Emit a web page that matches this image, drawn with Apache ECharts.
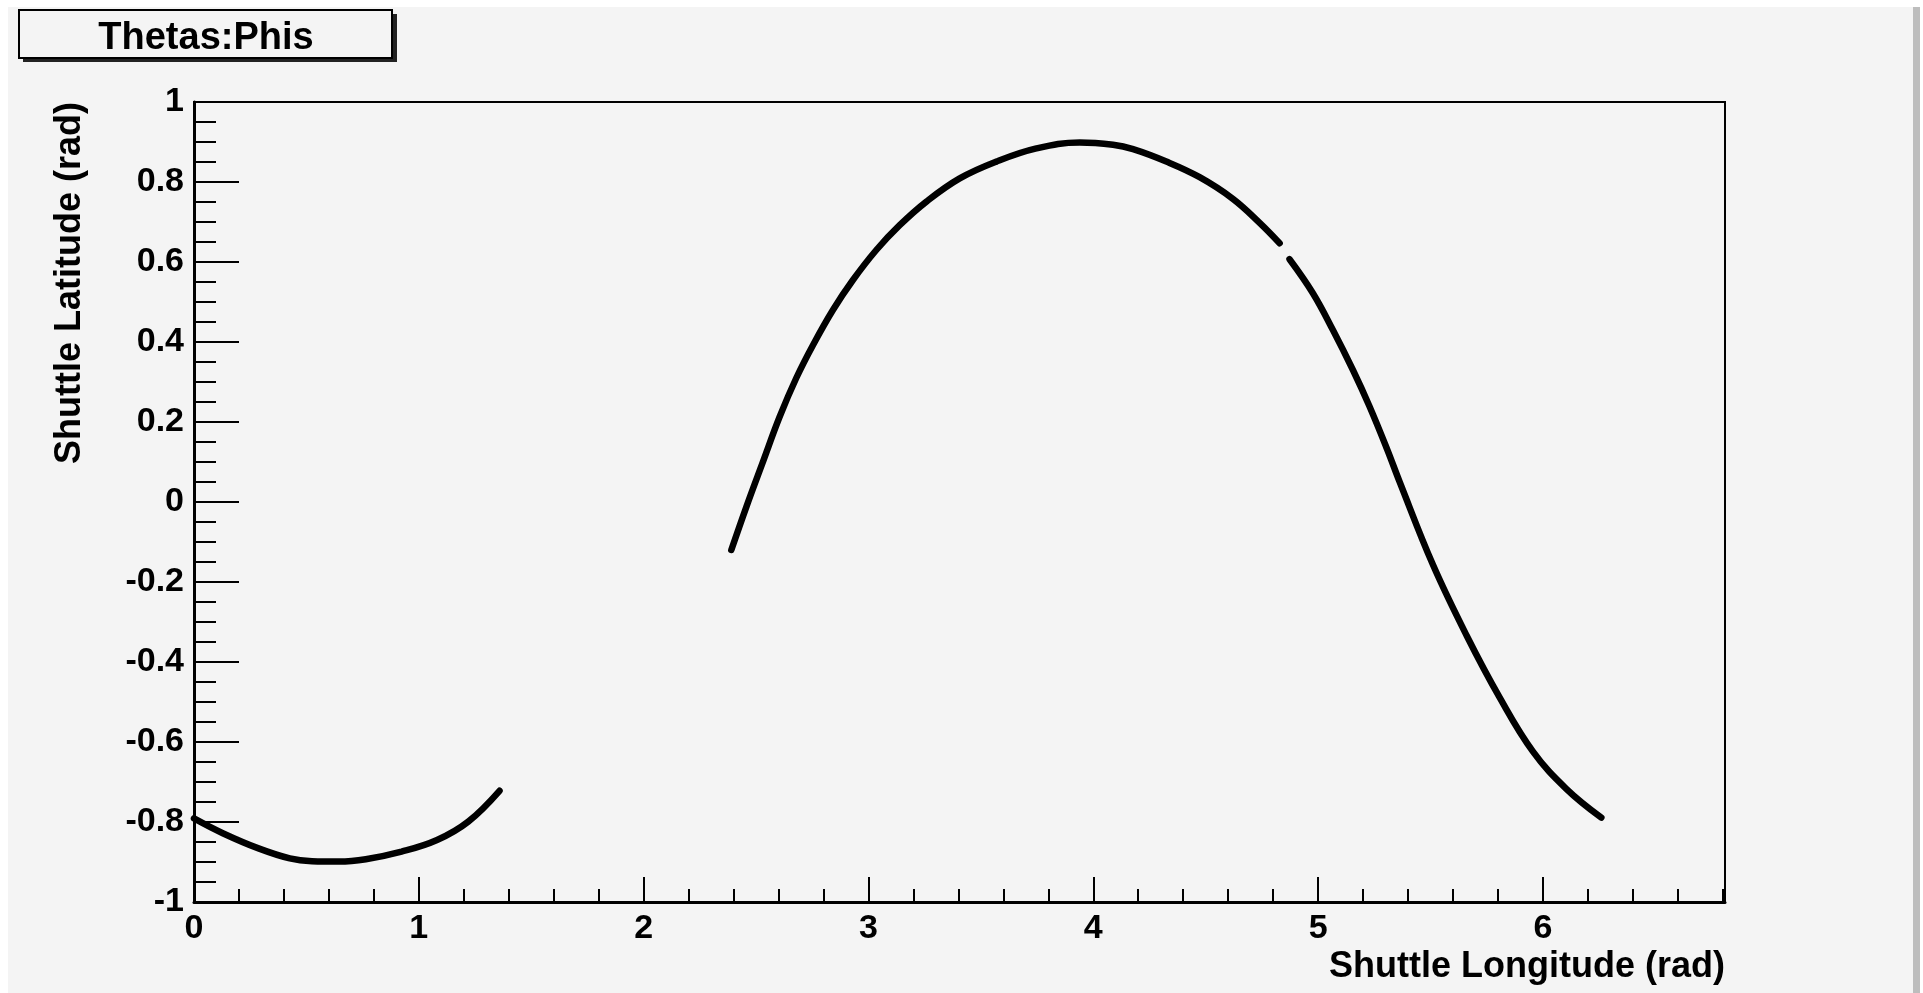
<!DOCTYPE html>
<html>
<head>
<meta charset="utf-8">
<title>Thetas:Phis</title>
<script src="https://cdn.jsdelivr.net/npm/echarts@6/dist/echarts.min.js"></script>
<style>
html,body{margin:0;padding:0;background:#fff;}
#main{width:1923px;height:993px;}
</style>
</head>
<body>
<div id="main"></div>
<script>
// two passes of the ground track (longitude, latitude in rad)
var lonA=[0,0.128,0.287,0.426,0.525,0.645,0.764,0.923,1.081,1.220,1.359];
var latA=[-0.791,-0.828,-0.866,-0.891,-0.898,-0.899,-0.893,-0.874,-0.845,-0.799,-0.722];

var lonB=[2.390,2.457,2.531,2.605,2.679,2.753,2.842,2.931,3.035,3.139,3.258,3.406,3.569,3.747,3.940,4.088,4.177,4.325,4.473,4.621,4.740,4.829,
	null,
	4.873,4.977,5.066,5.155,5.228,5.307,5.363,5.511,5.660,5.808,5.956,6.104,6.260];
var latB=[-0.120,-0.012,0.101,0.213,0.310,0.392,0.480,0.555,0.630,0.692,0.751,0.809,0.851,0.884,0.899,0.893,0.882,0.851,0.812,0.758,0.698,0.647,
	null,
	0.607,0.522,0.430,0.330,0.240,0.132,0.050,-0.157,-0.333,-0.489,-0.624,-0.717,-0.789];

var titleText='Thetas:Phis';
var xName='Shuttle Longitude (rad)';
var yName='Shuttle Latitude (rad)';

function pairs(xs,ys){
	var out=[];
	for(var i=0;i<xs.length;i++){
		if(xs[i]===null){out.push([null,null]);}
		else{out.push([xs[i],ys[i]]);}
	}
	return out;
}

var font='"Liberation Sans", Arial, Helvetica, sans-serif';
var myChart=echarts.init(document.getElementById('main'));
var option={
	backgroundColor:'#f4f4f4',
	animation:false,
	graphic:[
		{type:'rect',shape:{x:0,y:0,width:1923,height:7},style:{fill:'#fff'},z:-1},
		{type:'rect',shape:{x:0,y:0,width:8,height:993},style:{fill:'#fff'},z:-1},
		{type:'rect',shape:{x:1913,y:7,width:7,height:986},style:{fill:'#bdbdbd'},z:-1},
		{type:'rect',shape:{x:1920,y:0,width:3,height:993},style:{fill:'#fff'},z:-1},
		//标题框 + 阴影
		{type:'rect',shape:{x:23,y:14,width:374,height:48},style:{fill:'#222'},z:10},
		{type:'rect',shape:{x:19,y:10,width:373,height:48},style:{fill:'#f4f4f4',stroke:'#000',lineWidth:2},z:11},
		{type:'text',x:206,y:39,z:12,style:{text:titleText,fill:'#000',font:'bold 38px '+font,textAlign:'center',textVerticalAlign:'middle'}},
		//x轴标题 (右对齐到坐标轴末端)
		{type:'text',x:1725,y:949,z:12,style:{text:xName,fill:'#000',font:'bold 36px '+font,textAlign:'right',textVerticalAlign:'top'}}
	],
	grid:{
		left:194,right:198,top:102,bottom:91,
		outerBoundsMode:'none',
		show:true,borderColor:'#000',borderWidth:2,backgroundColor:'transparent'
	},
	xAxis:{
		type:'value',min:0,max:6.81,interval:1,
		axisLine:{show:true,onZero:false,lineStyle:{color:'#000',width:3}},
		axisTick:{show:true,inside:true,length:25,lineStyle:{color:'#000',width:2}},
		minorTick:{show:true,splitNumber:5,length:13,lineStyle:{color:'#000',width:2}},
		axisLabel:{color:'#000',fontFamily:font,fontWeight:'bold',fontSize:34,margin:10,showMaxLabel:false},
		splitLine:{show:false},
		minorSplitLine:{show:false}
	},
	yAxis:{
		type:'value',min:-1,max:1,interval:0.2,
		name:yName,nameLocation:'end',nameGap:0,nameRotate:90,
		nameTextStyle:{color:'#000',fontFamily:font,fontWeight:'bold',fontSize:36,align:'right',verticalAlign:'bottom',padding:[0,0,106,0]},
		axisLine:{show:true,onZero:false,lineStyle:{color:'#000',width:3}},
		axisTick:{show:true,inside:true,length:45,lineStyle:{color:'#000',width:2}},
		minorTick:{show:true,splitNumber:4,length:22,lineStyle:{color:'#000',width:2}},
		axisLabel:{color:'#000',fontFamily:font,fontWeight:'bold',fontSize:34,margin:10},
		splitLine:{show:false},
		minorSplitLine:{show:false}
	},
	series:[
		{
			name:'pass 1',type:'line',data:pairs(lonA,latA),
			showSymbol:false,smooth:0.4,connectNulls:false,
			lineStyle:{color:'#000',width:6.5,cap:'round'}
		},
		{
			name:'pass 2',type:'line',data:pairs(lonB,latB),
			showSymbol:false,smooth:0.4,connectNulls:false,
			lineStyle:{color:'#000',width:6.5,cap:'round'}
		}
	]
};
myChart.setOption(option);
</script>
</body>
</html>
